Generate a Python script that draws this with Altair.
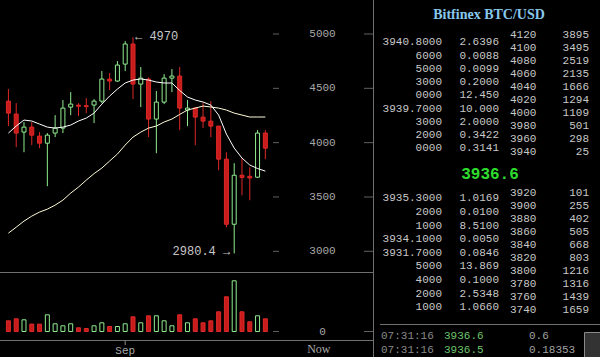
import altair as alt
import numpy as np
import pandas as pd

# ---------------- data ----------------
opens  = [4382, 4263, 4097, 4143, 4060, 3995, 4088, 4134, 4327, 4345, 4340, 4346, 4382, 4585, 4567, 4723, 4908,
          4539, 4585, 4217, 4373, 4594, 4613, 4300, 4318, 4235, 4198, 4152, 3848, 3249, 3700, 3690, 3682, 4088]
highs  = [4493, 4364, 4189, 4189, 4097, 4088, 4253, 4392, 4465, 4364, 4410, 4400, 4659, 4641, 4751, 4935, 4970,
          4696, 4600, 4475, 4631, 4677, 4696, 4392, 4327, 4364, 4382, 4155, 3912, 3811, 3857, 3774, 4115, 4115]
lows   = [4152, 3959, 3912, 3977, 3949, 3599, 4051, 4088, 4253, 4244, 4272, 4180, 4364, 4484, 4560, 4659, 4401,
          4327, 4051, 3903, 4355, 4465, 4115, 4152, 3977, 4134, 4051, 3746, 3221, 2980.4, 3516, 3470, 3675, 3848]
closes = [4272, 4088, 4143, 4069, 3995, 4069, 4134, 4318, 4355, 4335, 4332, 4382, 4585, 4567, 4714, 4908, 4539,
          4594, 4217, 4373, 4594, 4613, 4318, 4318, 4235, 4198, 4152, 3848, 3249, 3700, 3680, 3675, 4088, 3949]
volumes = [21.4, 25.4, 23.4, 14.8, 14.8, 33.4, 15.4, 11.4, 15.4, 7.4, 6.0, 11.4, 17.4, 10.0, 10.0, 15.4, 29.4,
           17.4, 31.4, 31.4, 21.4, 11.4, 33.4, 17.4, 25.4, 17.4, 21.4, 39.4, 69.4, 101.4, 39.4, 19.4, 31.4, 25.4]
ma_fast = [4088, 4153, 4208, 4199, 4171, 4143, 4134, 4143, 4162, 4199, 4226, 4272, 4355, 4429, 4493, 4549, 4576,
           4586, 4576, 4558, 4549, 4549, 4480, 4420, 4392, 4374, 4346, 4254, 4079, 3950, 3858, 3794, 3762, 3738]
ma_slow = [3167, 3222, 3278, 3324, 3361, 3388, 3425, 3471, 3536, 3591, 3655, 3715, 3766, 3831, 3895, 3978, 4051,
           4097, 4134, 4153, 4190, 4217, 4260, 4300, 4318, 4337, 4328, 4318, 4300, 4272, 4254, 4236, 4236, 4236]

price_ticks = [3000, 3500, 4000, 4500, 5000]
volume_ticks = [0]
x_tick_values = [15, 39.875]
x_tick_labels = ["Sep", "Now"]

book_title = "Bitfinex BTC/USD"
last_price = "3936.6"
ask_prices = ["3940.8000", "6000", "5000", "3000", "0000", "3939.7000", "3000", "2000", "0000"]
ask_amounts = ["2.6396", "0.0088", "0.0099", "0.2000", "12.450", "10.000", "2.0000", "0.3422", "0.3141"]
ask_levels = ["4120", "4100", "4080", "4060", "4040", "4020", "4000", "3980", "3960", "3940"]
ask_totals = ["3895", "3495", "2519", "2135", "1666", "1294", "1109", "501", "298", "25"]
bid_prices = ["3935.3000", "2000", "1000", "3934.1000", "3931.7000", "5000", "4000", "2000", "1000"]
bid_amounts = ["1.0169", "0.0100", "8.5100", "0.0050", "0.0846", "13.869", "0.1000", "2.5348", "1.0660"]
bid_levels = ["3920", "3900", "3880", "3860", "3840", "3820", "3800", "3780", "3760", "3740"]
bid_totals = ["101", "255", "402", "505", "668", "803", "1216", "1316", "1439", "1659"]
trade_times = ["07:31:16", "07:31:16"]
trade_prices = ["3936.6", "3936.5"]
trade_amounts = ["0.6", "0.18353"]

# ---------------- styles ----------------
MONO = "Liberation Mono"
SERIF = "Liberation Serif"
LINE = "#707070"
TICK = "#8a8a8a"
LABEL = "#a8a8a8"
RED_FILL = "#c81c1c"
RED_LINE = "#e02828"
GREEN = "#90ec90"
TXT = "#c8c8c8"

n = len(opens)
df = pd.DataFrame({"i": list(range(n)), "open": opens, "high": highs, "low": lows, "close": closes,
                   "vol": volumes, "ma_fast": ma_fast, "ma_slow": ma_slow})
df["dir"] = np.where(df["close"] >= df["open"], "up", "down")
up = df[df["dir"] == "up"]
down = df[df["dir"] == "down"]

hi_i = int(np.argmax(highs))
lo_i = int(np.argmin(lows))
ann_hi = pd.DataFrame({"i": [hi_i], "p": [highs[hi_i]], "label": [f"\u2190 {highs[hi_i]:g}"]})
ann_lo = pd.DataFrame({"i": [lo_i], "p": [lows[lo_i]], "label": [f"{lows[lo_i]:g} \u2192"]})

price_guides = pd.DataFrame({"v": price_ticks, "label": [str(v) for v in price_ticks]})
volume_guides = pd.DataFrame({"v": volume_ticks, "label": [str(v) for v in volume_ticks]})
x_guides = pd.DataFrame({"v": x_tick_values, "label": x_tick_labels})

X = alt.Scale(domain=[-0.375, 46.25], range=[0.5, 373.5], nice=False, zero=False)
PY = alt.Scale(domain=[3000, 5000], range=[251.3, 34.0], nice=False, zero=False)
VY = alt.Scale(domain=[0, 120], range=[331.5, 271.5], nice=False, zero=False)


def xenc(field="i"):
    return alt.X(f"{field}:Q", scale=X, axis=None)


def guide_layers(data, scale):
    base = alt.Chart(data).encode(y=alt.Y("v:Q", scale=scale, axis=None))
    d1 = base.mark_tick(color=TICK, orient="horizontal", size=6, thickness=1).encode(x=alt.value(276))
    d2 = base.mark_tick(color=TICK, orient="horizontal", size=9, thickness=1).encode(x=alt.value(368.5))
    lab = base.mark_text(align="center", baseline="middle", font=MONO, fontSize=11, color=LABEL).encode(
        x=alt.value(322.5), text="label:N")
    return [d1, d2, lab]


# ---------------- price panel ----------------
wick_dn = alt.Chart(down).mark_rule(color=RED_LINE, strokeWidth=1).encode(
    x=xenc(), y=alt.Y("low:Q", scale=PY, axis=None), y2="high:Q")
wick_up = alt.Chart(up).mark_rule(color=GREEN, strokeWidth=1).encode(
    x=xenc(), y=alt.Y("low:Q", scale=PY, axis=None), y2="high:Q")
body_dn = alt.Chart(down).mark_bar(size=4, fill=RED_FILL, stroke=RED_LINE, strokeWidth=1).encode(
    x=xenc(), y=alt.Y("open:Q", scale=PY, axis=None), y2="close:Q")
body_up = alt.Chart(up).mark_bar(size=4, fill="black", stroke=GREEN, strokeWidth=1).encode(
    x=xenc(), y=alt.Y("open:Q", scale=PY, axis=None), y2="close:Q")
line_slow = alt.Chart(df).mark_line(color="#fffcd8", strokeWidth=1).encode(
    x=xenc(), y=alt.Y("ma_slow:Q", scale=PY, axis=None))
line_fast = alt.Chart(df).mark_line(color="#ffffff", strokeWidth=1).encode(
    x=xenc(), y=alt.Y("ma_fast:Q", scale=PY, axis=None))
hi_text = alt.Chart(ann_hi).mark_text(align="left", baseline="middle", dx=2, dy=-1, font=MONO,
                                      fontSize=12, color=TXT).encode(
    x=xenc(), y=alt.Y("p:Q", scale=PY, axis=None), text="label:N")
lo_text = alt.Chart(ann_lo).mark_text(align="right", baseline="middle", dx=-4, dy=-2, font=MONO,
                                      fontSize=12, color=TXT).encode(
    x=xenc(), y=alt.Y("p:Q", scale=PY, axis=None), text="label:N")

price_group = alt.layer(wick_dn, wick_up, body_dn, body_up, line_slow, line_fast, hi_text, lo_text,
                        *guide_layers(price_guides, PY))

# ---------------- volume panel ----------------
vol_dn = alt.Chart(down).mark_bar(size=4, fill=RED_FILL, stroke=RED_LINE, strokeWidth=1).encode(
    x=xenc(), y=alt.Y("vol:Q", scale=VY, axis=None), y2=alt.datum(0))
vol_up = alt.Chart(up).mark_bar(size=4, fill="black", stroke=GREEN, strokeWidth=1).encode(
    x=xenc(), y=alt.Y("vol:Q", scale=VY, axis=None), y2=alt.datum(0))

first_tick = x_guides.iloc[[0]]
last_tick = x_guides.iloc[[1]]
x_tick_rule = alt.Chart(first_tick).mark_rule(color=TICK, strokeWidth=1).encode(
    x=xenc("v"), y=alt.value(340), y2=alt.value(345))
x_lab_sep = alt.Chart(first_tick).mark_text(font=MONO, fontSize=11, color=LABEL, align="center",
                                            baseline="middle").encode(
    x=xenc("v"), y=alt.value(351), text="label:N")
x_lab_now = alt.Chart(last_tick).mark_text(font=SERIF, fontSize=12, color=LABEL, align="center",
                                           baseline="middle").encode(
    x=xenc("v"), y=alt.value(349), text="label:N")

volume_group = alt.layer(vol_dn, vol_up, *guide_layers(volume_guides, VY), x_tick_rule, x_lab_sep, x_lab_now)

left_group = alt.layer(price_group, volume_group).resolve_scale(y="independent")


# ---------------- order book ----------------
def block(cols, rng, specs, size=11):
    k = len(cols[0])
    data = pd.DataFrame({"r": list(range(k)), **{f"c{j}": c for j, c in enumerate(cols)}})
    ys = alt.Scale(domain=[0, k - 1], range=rng, nice=False, zero=False)
    base = alt.Chart(data).encode(y=alt.Y("r:Q", scale=ys, axis=None))
    layers = []
    for j, (xp, al, colr) in enumerate(specs):
        layers.append(base.mark_text(align=al, baseline="middle", font=MONO, fontSize=size, color=colr)
                      .encode(x=alt.value(xp), text=f"c{j}:N"))
    return alt.layer(*layers)


ul = block([ask_prices, ask_amounts], [42.3, 148.3], [(442, "right", TXT), (499, "right", TXT)])
ur = block([ask_levels, ask_totals], [35.0, 152.3], [(510, "left", TXT), (589, "right", TXT)])
ll = block([bid_prices, bid_amounts], [198.3, 307.3], [(442, "right", TXT), (499, "right", TXT)])
lr = block([bid_levels, bid_totals], [193.3, 310.0], [(510, "left", TXT), (589, "right", TXT)])
tr = block([trade_times, trade_prices, trade_amounts], [336.0, 350.0],
           [(381, "left", "#8a8a8a"), (444, "left", "#6cc46c"), (529, "left", "#a0a0a0")])

one = pd.DataFrame({"t": [book_title], "p": [last_price]})
title_layer = alt.Chart(one).mark_text(font=SERIF, fontSize=14, fontWeight="bold", color="#88c8ec",
                                       align="center", baseline="middle").encode(
    x=alt.value(489), y=alt.value(15), text="t:N")
mid_layer = alt.Chart(one).mark_text(font=MONO, fontSize=16, fontWeight="bold", color="#2edc2e",
                                     align="center", baseline="middle").encode(
    x=alt.value(490), y=alt.value(174), text="p:N")

book_group = alt.layer(ul, ur, ll, lr, tr, title_layer, mid_layer).resolve_scale(y="independent")

# ---------------- separators ----------------
sep_v = alt.Chart(one).mark_rule(color=LINE, strokeWidth=1).encode(
    x=alt.value(373.5), y=alt.value(0), y2=alt.value(357))
sep_price = alt.Chart(one).mark_rule(color=LINE, strokeWidth=1).encode(
    y=alt.value(272.5), x=alt.value(0), x2=alt.value(373.5))
sep_axis = alt.Chart(one).mark_rule(color=LINE, strokeWidth=1).encode(
    y=alt.value(340.5), x=alt.value(0), x2=alt.value(373.5))
sep_h = alt.Chart(one).mark_rule(color=LINE, strokeWidth=1).encode(
    y=alt.value(324.5), x=alt.value(380), x2=alt.value(600))
box = alt.Chart(one).mark_rect(fill="#333333", stroke="#8a8a8a", strokeWidth=1).encode(
    x=alt.value(584.5), x2=alt.value(600.5), y=alt.value(332.5), y2=alt.value(357.5))

chart = alt.layer(left_group, book_group, sep_v, sep_price, sep_axis, sep_h, box).resolve_scale(
    x="independent", y="independent").properties(
    width=600, height=357, padding=0, background="black",
    autosize=alt.AutoSizeParams(type="none")).configure_view(stroke=None)

chart.save("out.html", embed_options={"renderer": "svg", "actions": False})
